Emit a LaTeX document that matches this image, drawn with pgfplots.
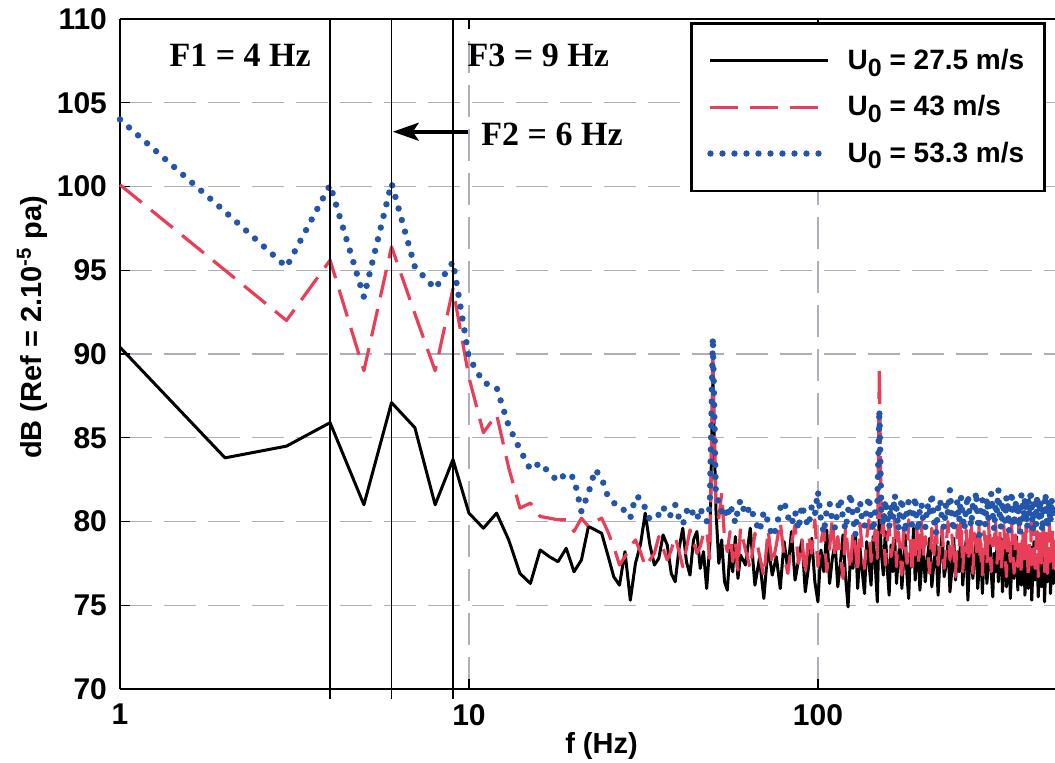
\documentclass[border=0pt]{standalone}
\usepackage{fontspec}
\setmainfont{Liberation Sans}
\newfontfamily\annfont{Liberation Serif}
\usepackage{pgfplots}
\pgfplotsset{compat=1.18}
\usepackage{pgfplotstable}
\usetikzlibrary{arrows.meta}

\definecolor{myred}{RGB}{232,62,88}
\definecolor{myblue}{RGB}{35,85,170}
\definecolor{gridgray}{RGB}{175,175,187}

\newcommand{\Uo}{U\raisebox{-0.45ex}{\fontsize{12.5}{14}\selectfont 0}}

\pgfplotstableread{
f b r u
1 90.4 100.1 104.0
2 83.8 95.0 98.5
3 84.5 92.0 95.2
4 85.9 95.6 100.1
5 81.0 89.0 93.4
6 87.1 96.4 100.2
7 85.6 92.4 95.2
8 81.0 89.0 93.9
9 83.7 93.9 95.5
10 80.5 88.6 89.8
11 79.6 85.3 88.3
12 80.5 86.4 88.0
13 78.9 83.2 85.7
14 76.9 80.8 84.3
15 76.3 81.1 83.1
16 78.3 80.3 83.5
17 77.9 80.2 82.9
18 77.6 80.1 82.4
19 78.4 80.1 82.9
20 77.0 79.4 82.6
21 77.7 80.2 80.6
22 79.7 79.7 81.7
23 79.5 80.0 83.1
24 79.3 80.2 82.6
25 78.0 79.4 81.5
26 76.7 78.5 81.1
27 76.2 77.4 81.0
28 78.2 77.9 80.6
29 75.3 78.5 80.2
30 77.5 78.9 81.5
31 78.6 78.2 81.4
32 80.5 77.3 80.8
33 78.6 77.7 80.1
34 77.4 78.1 80.3
35 77.8 79.1 80.4
36 79.2 78.4 80.9
37 78.6 77.7 80.3
38 76.9 78.3 80.4
39 76.4 79.1 81.0
40 78.4 78.2 80.2
41 79.6 77.3 79.8
42 77.6 78.4 80.6
43 76.8 79.5 80.9
44 78.9 78.8 80.4
45 79.4 78.1 80.1
46 77.2 78.5 80.8
47 78.2 79.3 80.3
48 76.0 79.5 80.0
49 78.6 77.8 80.9
50 88.5 90.3 91.0
51 80.8 81.0 81.5
52 77.5 80.2 81.2
53 78.9 81.7 80.6
54 76.4 79.0 80.9
55 75.9 78.2 80.2
56 78.3 79.4 81.0
57 77.0 77.6 80.5
58 79.1 78.8 79.9
59 76.6 77.1 80.7
60 78.0 79.6 81.3
62 77.4 78.3 80.4
64 79.6 77.2 80.9
66 76.2 79.3 80.1
68 77.8 78.0 79.4
70 75.4 76.7 80.6
72 78.5 79.5 80.0
74 76.8 77.4 79.1
76 77.9 78.6 79.6
78 76.0 80.0 80.8
80 78.8 77.9 81.2
82 77.1 76.9 80.3
84 79.4 78.7 79.8
86 76.5 79.8 80.6
88 77.7 77.5 79.5
90 78.9 78.9 81.0
92 75.8 76.8 80.2
94 77.3 79.2 79.7
96 79.0 78.1 80.9
98 76.4 80.1 80.4
100 75.2 77.3 81.8
102 78.3 78.8 80.1
104 77.0 79.6 79.3
106 79.5 77.0 80.7
108 76.3 78.4 81.1
110 77.8 80.2 80.0
112 78.7 77.8 79.6
114 76.1 79.1 80.8
116 77.5 78.0 81.4
118 79.2 76.6 80.2
120 76.7 79.7 79.5
122 74.9 78.2 80.6
124 78.0 77.1 81.7
126 77.2 79.4 80.3
128 79.3 78.5 79.2
130 76.0 76.9 80.9
132 78.4 79.9 81.2
134 77.0 78.3 80.0
136 75.7 77.2 79.7
138 78.8 79.0 80.8
140 77.5 80.1 81.5
142 76.2 77.6 80.2
144 79.1 78.7 79.4
146 77.4 79.5 80.7
148 75.2 77.8 81.0
150 80.8 89.2 86.7
152 78.1 79.2 80.5
154 76.8 80.0 79.8
156 79.4 77.4 81.3
158 77.2 78.9 80.4
160 75.6 79.8 79.6
162 78.6 77.9 81.0
164 77.0 78.5 80.2
166 79.0 80.2 81.6
168 76.3 77.3 80.8
170 77.9 79.4 79.5
172 78.7 78.2 80.7
174 76.0 76.8 81.4
176 77.6 79.6 80.1
178 79.2 78.4 79.3
180 76.8 77.5 80.9
182 75.4 80.1 81.2
184 78.1 78.8 80.3
186 77.3 76.9 79.8
188 79.6 79.3 80.6
190 76.5 78.0 81.5
192 77.9 79.7 80.0
194 78.5 77.6 79.4
196 75.9 78.7 80.8
198 77.2 80.0 81.1
200 78.8 77.8 80.2
203 76.4 79.1 79.6
206 77.8 78.3 81.0
209 79.0 76.9 80.4
212 76.1 79.6 81.7
215 77.5 78.0 80.1
218 78.6 80.1 79.3
221 75.6 77.4 80.8
224 77.9 78.8 81.3
227 79.3 79.7 80.0
230 76.7 77.2 79.6
233 77.4 78.6 81.1
236 78.8 80.0 80.5
239 75.8 77.7 81.9
242 77.1 79.2 80.2
245 79.0 78.1 79.4
248 76.5 76.7 80.7
251 78.2 79.8 81.2
254 77.0 78.4 80.0
257 79.4 80.2 81.5
260 76.2 77.0 80.3
263 77.7 78.9 79.5
266 78.9 79.5 80.9
269 75.3 77.6 81.6
272 77.6 78.2 80.4
275 78.4 80.0 79.7
278 76.6 76.9 81.0
281 77.9 79.3 80.6
284 79.1 78.5 81.8
287 76.0 77.8 80.1
290 77.3 79.9 79.2
293 78.7 78.0 80.8
296 75.7 76.8 81.3
299 77.8 79.4 80.5
302 78.5 78.7 79.8
305 76.3 77.4 81.4
308 77.6 80.1 80.2
311 79.2 78.3 80.9
314 76.9 77.0 81.7
317 75.5 79.0 80.4
320 78.1 78.6 79.5
323 77.0 80.0 81.1
326 78.8 77.5 80.6
329 76.4 78.9 81.9
332 77.7 79.6 80.3
335 79.0 77.1 79.6
338 75.8 78.2 81.2
341 77.4 79.8 80.7
344 78.3 78.0 80.0
347 76.1 76.7 81.5
350 77.9 79.3 80.9
353 78.6 78.4 79.4
356 75.4 77.6 80.6
359 77.2 79.9 81.8
362 78.9 78.1 80.2
365 76.6 76.9 79.7
368 77.5 79.2 81.3
371 79.1 78.6 80.5
374 75.9 77.3 81.0
377 77.8 80.2 80.1
380 78.2 78.0 79.3
383 76.2 76.8 81.6
386 77.0 79.5 80.8
389 78.7 78.3 80.0
392 75.6 77.7 81.4
395 77.6 79.7 80.6
398 78.4 78.1 79.6
401 76.0 76.6 81.2
404 77.3 79.0 80.3
407 78.5 79.9 81.9
410 75.3 77.4 80.7
413 77.1 78.5 79.5
416 78.8 80.0 81.1
419 76.5 77.2 80.4
422 77.4 78.8 79.8
425 78.0 79.4 81.5
428 75.5 76.7 80.9
431 76.9 78.9 80.2
434 78.3 79.6 81.3
437 76.1 77.5 80.0
440 77.2 78.3 79.4
443 78.6 80.1 81.0
446 75.2 77.0 80.6
449 77.0 78.7 81.7
452 78.1 79.3 80.1
455 76.4 76.9 79.6
458 77.5 78.4 81.2
461 78.4 79.8 80.5
464 75.7 77.6 79.9
467 77.3 78.2 81.4
470 78.2 79.5 80.8
473 76.3 77.1 80.2
476 77.0 78.8 81.0
478 76.6 78.0 80.4
}\spec

\pgfplotsset{every non boxed y axis/.style={}}

\begin{document}
\begin{tikzpicture}
\useasboundingbox (-60pt,-36.5pt) rectangle (467.5pt,344.5pt);
\begin{axis}[
  at={(0,0)}, anchor=south west,
  scale only axis, width=467.5pt, height=335pt,
  xmode=log, xmin=1, xmax=478, ymin=70, ymax=110,
  enlargelimits=false, clip=false,
  axis x line=box, axis y line=left,
  axis line style={line width=1.2pt, -},
  xtick={1,10,100}, xticklabels={1,10,100},
  ytick={70,75,...,110},
  xminorticks=false,
  tick align=inside,
  major tick length=5pt,
  tick style={line width=0.6pt, black},
  grid=major,
  major grid style={gridgray, line width=0.6pt, dash pattern=on 16pt off 6pt},
  ticklabel style={font=\fontsize{15}{17}\selectfont\bfseries},
  /pgf/number format/assume math mode=true,
  yticklabel style={xshift=-3pt},
  xticklabel style={yshift=-4pt},
  xlabel={f (Hz)},
  ylabel={dB (Ref = 2.10\textsuperscript{-5} pa)},
  label style={font=\fontsize{14.5}{17}\selectfont\bfseries},
  xlabel style={at={(axis description cs:0.515,-0.097)}, anchor=base},
  ylabel style={at={(axis description cs:-0.094,0.54)}, anchor=center},
  legend style={at={(rel axis cs:0.6096,0.9955)}, anchor=north west,
    draw=black, line width=1.3pt, fill=white,
    font=\fontsize{14}{16}\selectfont\bfseries,
    inner xsep=8pt, inner ysep=11pt, row sep=7.5pt, column sep=6pt,
    cells={anchor=west}},
  legend image code/.code={\draw[#1] (0pt,0pt) -- (59pt,0pt);},
]
\addplot[black, line width=1.5pt, line join=round] table[x=f,y=b] {\spec};
\addlegendentry{\Uo{} = 27.5 m/s\hspace{20pt}}
\addplot[myred, line width=1.6pt, line join=round, dash pattern=on 14pt off 6pt] table[x=f,y=r] {\spec};
\addlegendentry{\Uo{} = 43 m/s}
\addplot[myblue, line width=3.2pt, line cap=round, dash pattern=on 0pt off 6pt] table[x=f,y=u] {\spec};
\addlegendentry{\Uo{} = 53.3 m/s}

\draw[black, line width=0.9pt] (axis cs:4,69.4) -- (axis cs:4,110);
\draw[black, line width=0.9pt] (axis cs:6,69.4) -- (axis cs:6,110);
\draw[black, line width=0.9pt] (axis cs:9,69.4) -- (axis cs:9,110);
\node[font=\annfont\bfseries\fontsize{17}{20}\selectfont] at (axis cs:2.21,107.85) {F1 = 4 Hz};
\node[font=\annfont\bfseries\fontsize{17}{20}\selectfont] at (axis cs:15.8,107.85) {F3 = 9 Hz};
\node[font=\annfont\bfseries\fontsize{17}{20}\selectfont] at (axis cs:17.3,103.1) {F2 = 6 Hz};
\draw[-{Stealth[length=13pt,width=9pt,inset=3pt]}, line width=1.8pt] (axis cs:9.95,103.27) -- (axis cs:6.05,103.27);
\end{axis}
\end{tikzpicture}
\end{document}
